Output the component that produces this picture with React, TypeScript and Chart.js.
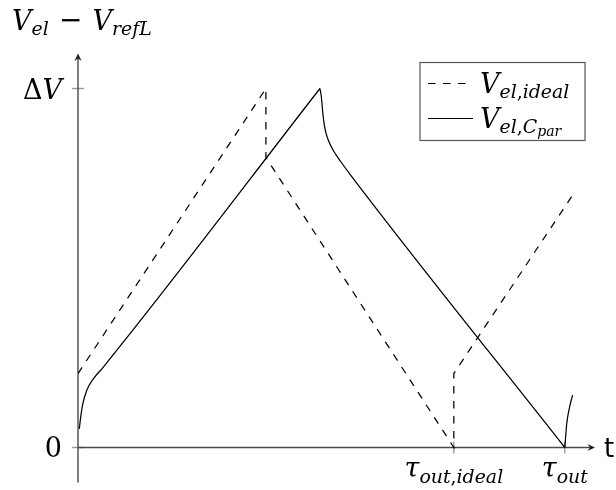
import { useEffect, useRef } from 'react';
import { Chart, registerables } from 'chart.js';

Chart.register(...registerables);

// Ideal electrode voltage (dashed): sawtooth with instantaneous steps
const idealT = [0, 3.86, 3.86, 7.72, 7.72, 10.14];
const idealV = [0.206, 1.0, 0.808, 0, 0.206, 0.699];

// Electrode voltage with parasitic capacitance (solid), in three pieces
const riseT = [0.027, 0.055, 0.097, 0.179, 0.314, 0.52, 4.97];
const riseV = [0.052, 0.084, 0.121, 0.159, 0.191, 0.224, 1.0];
const fallT = [4.97, 5.0, 5.03, 5.06, 5.1, 5.16, 5.25, 5.4, 5.6, 10.0];
const fallV = [1.0, 0.975, 0.93, 0.898, 0.873, 0.85, 0.826, 0.796, 0.759, 0];
const tailT = [10.0, 10.04, 10.1, 10.16];
const tailV = [0, 0.067, 0.114, 0.146];

// Axis ranges
const tMin = 0;
const tMax = 10.62;
const vMin = -0.0975;
const vMax = 1.0975;

// Tick marks and their (TeX-like) labels
const xTickValues = [7.72, 10.0];
const xTickLabels = ['τ_{out,ideal}', 'τ_{out}'];
const yTickValues = [0, 1];
const yTickLabels = ['0', 'ΔV'];
const xAxisTitle = 't';
const yAxisTitle = 'V_{el} − V_{refL}';
const legendLabels = ['V_{el,ideal}', 'V_{el,C_{par}}'];

const SERIF = '"DejaVu Serif", serif';
const BASE = 27;

type Glyph = { ch: string; level: number };

function parseMath(src: string, level = 0, out: Glyph[] = []): Glyph[] {
  let i = 0;
  while (i < src.length) {
    const c = src[i];
    if (c === '_') {
      i++;
      let inner = '';
      if (src[i] === '{') {
        let depth = 1;
        let j = i + 1;
        while (j < src.length && depth > 0) {
          if (src[j] === '{') depth++;
          else if (src[j] === '}') depth--;
          if (depth > 0) inner += src[j];
          j++;
        }
        i = j;
      } else {
        inner = src[i];
        i++;
      }
      parseMath(inner, level + 1, out);
    } else {
      out.push({ ch: c, level });
      i++;
    }
  }
  return out;
}

const isItalic = (ch: string) => /[A-Za-zα-ω]/.test(ch);
const sizeFor = (level: number) => BASE * [1, 0.7, 0.52][Math.min(level, 2)];
const shiftFor = (level: number) => [0, 0.2, 0.32][Math.min(level, 2)] * BASE;
const isBinOp = (g: Glyph) => g.ch === '−' && g.level === 0;

function fontFor(g: Glyph) {
  if (isBinOp(g)) return `28px "DejaVu Sans", sans-serif`;
  return `${isItalic(g.ch) ? 'italic ' : ''}${sizeFor(g.level)}px ${SERIF}`;
}

function drawMath(
  ctx: CanvasRenderingContext2D,
  src: string,
  x: number,
  y: number,
  align: 'left' | 'center' | 'right' = 'left'
) {
  const glyphs = parseMath(src);
  const pad = 0.06 * BASE;
  const adv: number[] = glyphs.map((g) => {
    ctx.font = fontFor(g);
    let w = ctx.measureText(g.ch).width;
    if (isBinOp(g)) w += 2 * pad;
    return w;
  });
  const total = adv.reduce((a, b) => a + b, 0);
  let cx = align === 'left' ? x : align === 'center' ? x - total / 2 : x - total;
  ctx.textAlign = 'left';
  ctx.textBaseline = 'alphabetic';
  glyphs.forEach((g, k) => {
    ctx.font = fontFor(g);
    const lift = isBinOp(g) ? -1 : 0;
    ctx.fillText(g.ch, cx + (isBinOp(g) ? pad : 0), y + shiftFor(g.level) + lift);
    cx += adv[k];
  });
}

const axesPlugin = {
  id: 'texAxes',
  beforeDatasetsDraw(chart: Chart) {
    const { ctx, chartArea } = chart;
    const xs = chart.scales.x;
    const ys = chart.scales.y;
    const ox = xs.getPixelForValue(0);
    const oy = ys.getPixelForValue(0);
    ctx.save();
    // tick marks
    ctx.strokeStyle = '#9a9a9a';
    ctx.lineWidth = 1.4;
    xTickValues.forEach((v) => {
      const px = xs.getPixelForValue(v);
      ctx.beginPath();
      ctx.moveTo(px, oy - 6);
      ctx.lineTo(px, oy + 6);
      ctx.stroke();
    });
    yTickValues.forEach((v) => {
      const py = ys.getPixelForValue(v);
      ctx.beginPath();
      ctx.moveTo(ox - 6, py);
      ctx.lineTo(ox + 6, py);
      ctx.stroke();
    });
    // axis lines
    ctx.strokeStyle = '#4a4a4a';
    ctx.fillStyle = '#222';
    ctx.lineWidth = 1.4;
    ctx.beginPath();
    ctx.moveTo(ox, chartArea.bottom);
    ctx.lineTo(ox, chartArea.top + 4);
    ctx.moveTo(chartArea.left, oy);
    ctx.lineTo(chartArea.right - 4, oy);
    ctx.stroke();
    // arrow heads
    const head = (tx: number, ty: number, dx: number, dy: number) => {
      const px = -dy;
      const py = dx;
      ctx.beginPath();
      ctx.moveTo(tx, ty);
      ctx.lineTo(tx - dx * 7.5 + px * 3.6, ty - dy * 7.5 + py * 3.6);
      ctx.lineTo(tx - dx * 5, ty - dy * 5);
      ctx.lineTo(tx - dx * 7.5 - px * 3.6, ty - dy * 7.5 - py * 3.6);
      ctx.closePath();
      ctx.fill();
    };
    head(ox, chartArea.top, 0, -1);
    head(chartArea.right, oy, 1, 0);
    ctx.restore();
  },
  afterDatasetsDraw(chart: Chart) {
    const { ctx, chartArea } = chart;
    const xs = chart.scales.x;
    const ys = chart.scales.y;
    const ox = xs.getPixelForValue(0);
    const oy = ys.getPixelForValue(0);
    ctx.save();
    ctx.fillStyle = '#000';
    // tick labels
    yTickValues.forEach((v, k) => {
      drawMath(ctx, yTickLabels[k], ox - 16, ys.getPixelForValue(v) + 10, 'right');
    });
    xTickValues.forEach((v, k) => {
      drawMath(ctx, xTickLabels[k], xs.getPixelForValue(v), oy + 30, 'center');
    });
    // axis titles
    drawMath(ctx, yAxisTitle, 12, 30, 'left');
    ctx.font = `26px "DejaVu Sans", sans-serif`;
    ctx.textAlign = 'left';
    ctx.textBaseline = 'alphabetic';
    ctx.fillText(xAxisTitle, chartArea.right + 9, oy + 10);
    // legend
    const bx = 420;
    const by = 62.5;
    const bw = 165;
    const bh = 78;
    ctx.strokeStyle = '#555';
    ctx.lineWidth = 1.2;
    ctx.strokeRect(bx, by, bw, bh);
    const rows = [by + 21, by + 56];
    ctx.strokeStyle = '#000';
    ctx.lineWidth = 1.2;
    ctx.setLineDash([7.5, 7.5]);
    ctx.beginPath();
    ctx.moveTo(bx + 8, rows[0]);
    ctx.lineTo(bx + 47, rows[0]);
    ctx.stroke();
    ctx.setLineDash([]);
    ctx.beginPath();
    ctx.moveTo(bx + 8, rows[1]);
    ctx.lineTo(bx + 53, rows[1]);
    ctx.stroke();
    legendLabels.forEach((lab, k) => {
      drawMath(ctx, lab, bx + 60, rows[k] + 9, 'left');
    });
    ctx.restore();
  },
};

const pts = (t: number[], v: number[]) => t.map((x, i) => ({ x, y: v[i] }));

export default function App() {
  const ref = useRef<HTMLCanvasElement>(null);
  useEffect(() => {
    if (!ref.current) return;
    const line = {
      borderColor: '#000',
      borderWidth: 1.25,
      pointRadius: 0,
      fill: false,
    };
    const chart = new Chart(ref.current, {
      type: 'line',
      data: {
        datasets: [
          { ...line, data: pts(idealT, idealV), tension: 0, borderDash: [7.5, 7.5] },
          { ...line, data: pts(riseT, riseV), cubicInterpolationMode: 'monotone' },
          { ...line, data: pts(fallT, fallV), cubicInterpolationMode: 'monotone' },
          { ...line, data: pts(tailT, tailV), cubicInterpolationMode: 'monotone' },
        ],
      },
      options: {
        animation: false,
        responsive: false,
        events: [],
        layout: { padding: { left: 78, right: 21, top: 53.5, bottom: 7.5 } },
        plugins: { legend: { display: false }, tooltip: { enabled: false } },
        scales: {
          x: { type: 'linear', min: tMin, max: tMax, display: false },
          y: { type: 'linear', min: vMin, max: vMax, display: false },
        },
      },
      plugins: [axesPlugin],
    } as any);
    return () => chart.destroy();
  }, []);
  return (
    <div style={{ position: 'absolute', left: 0, top: 0, width: 616, height: 490, background: '#fff' }}>
      <canvas ref={ref} width={616} height={490} style={{ display: 'block' }} />
    </div>
  );
}
